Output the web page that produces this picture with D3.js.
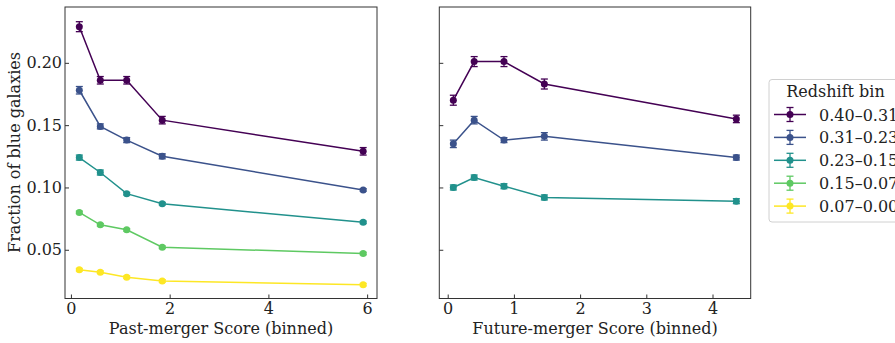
<!DOCTYPE html>
<html><head><meta charset="utf-8">
<script src="https://cdn.jsdelivr.net/npm/d3@7"></script>
<style>body{margin:0;background:#fff;} svg{display:block;} text{font-family:"DejaVu Serif",serif;}</style>
</head><body>
<svg id="c" width="895" height="343"></svg>
<script>
const seriesNames = ["0.40–0.31","0.31–0.23","0.23–0.15","0.15–0.07","0.07–0.00"];
const colors = ["#440154","#3b528b","#21918c","#5ec962","#fde725"];
const pastX = [0.17, 0.595, 1.13, 1.85, 5.92];
const pastY = [
  [0.229, 0.186, 0.186, 0.154, 0.129],
  [0.178, 0.149, 0.138, 0.125, 0.098],
  [0.124, 0.112, 0.095, 0.087, 0.072],
  [0.080, 0.070, 0.066, 0.052, 0.047],
  [0.034, 0.032, 0.028, 0.025, 0.022]
];
const pastErr = [
  [0.004, 0.003, 0.003, 0.003, 0.003],
  [0.003, 0.002, 0.002, 0.002, 0.001],
  [0.002, 0.002, 0.001, 0.001, 0.001],
  [0.001, 0.001, 0.001, 0.001, 0.001],
  [0.001, 0.001, 0.001, 0.001, 0.001]
];
const futureX = [0.085, 0.40, 0.85, 1.46, 4.36];
const futureY = [
  [0.170, 0.201, 0.201, 0.183, 0.155],
  [0.135, 0.154, 0.138, 0.141, 0.124],
  [0.100, 0.108, 0.101, 0.092, 0.089]
];
const futureErr = [
  [0.004, 0.004, 0.004, 0.004, 0.003],
  [0.003, 0.003, 0.002, 0.003, 0.002],
  [0.002, 0.002, 0.002, 0.002, 0.002]
];
const yTicks = [0.05, 0.10, 0.15, 0.20];
const pastTicks = [0, 2, 4, 6];
const futureTicks = [0, 1, 2, 3, 4];

(function(){
const svg = d3.select("#c");
const FS = 16;
const plotTop = 7, plotBottom = 298.5;
const y = d3.scaleLinear().domain([0.0109, 0.2448]).range([plotBottom, plotTop]);

function panel(x0, x1, xdom, xs, ys, errs, ticks, xlabel, showY) {
  const x = d3.scaleLinear().domain(xdom).range([x0, x1]);
  const g = svg.append("g");
  ys.forEach((vals, i) => {
    const c = colors[i];
    const pts = vals.map((v, j) => ({x: xs[j], y: v, e: errs[i][j]}));
    g.append("path").datum(pts)
      .attr("d", d3.line().x(d => x(d.x)).y(d => y(d.y)))
      .attr("fill", "none").attr("stroke", c).attr("stroke-width", 1.5);
    const eb = g.selectAll(null).data(pts).enter().append("g").attr("stroke", c).attr("stroke-width", 1.3);
    eb.append("line").attr("x1", d => x(d.x)).attr("x2", d => x(d.x)).attr("y1", d => y(d.y - d.e)).attr("y2", d => y(d.y + d.e));
    eb.append("line").attr("x1", d => x(d.x) - 3.5).attr("x2", d => x(d.x) + 3.5).attr("y1", d => y(d.y - d.e)).attr("y2", d => y(d.y - d.e));
    eb.append("line").attr("x1", d => x(d.x) - 3.5).attr("x2", d => x(d.x) + 3.5).attr("y1", d => y(d.y + d.e)).attr("y2", d => y(d.y + d.e));
    g.selectAll(null).data(pts).enter().append("circle")
      .attr("cx", d => x(d.x)).attr("cy", d => y(d.y)).attr("r", 3.5).attr("fill", c);
  });
  g.append("rect").attr("x", x0).attr("y", plotTop).attr("width", x1 - x0).attr("height", plotBottom - plotTop)
    .attr("fill", "none").attr("stroke", "#333").attr("stroke-width", 1);
  const xa = g.append("g").attr("transform", `translate(0,${plotBottom})`)
    .call(d3.axisBottom(x).tickValues(ticks).tickFormat(d3.format("d")).tickSizeInner(-4).tickSizeOuter(0).tickPadding(4.5));
  xa.select(".domain").remove();
  xa.selectAll("text").attr("font-size", FS).attr("fill", "#222").attr("font-family", "DejaVu Serif");
  xa.selectAll("line").attr("stroke", "#333");
  const ya = g.append("g").attr("transform", `translate(${x0},0)`)
    .call(d3.axisLeft(y).tickValues(yTicks).tickFormat(showY ? d3.format(".2f") : () => "").tickSizeInner(-4).tickSizeOuter(0).tickPadding(3));
  ya.select(".domain").remove();
  ya.selectAll("text").attr("font-size", FS).attr("fill", "#222").attr("font-family", "DejaVu Serif");
  ya.selectAll("line").attr("stroke", "#333");
  g.append("text").attr("x", (x0 + x1) / 2).attr("y", 333.5).attr("text-anchor", "middle")
    .attr("font-size", FS).attr("fill", "#222").text(xlabel);
}

panel(65, 377, [-0.12, 6.2], pastX, pastY, pastErr, pastTicks, "Past-merger Score (binned)", true);
panel(439.3, 750.7, [-0.127, 4.577], futureX, futureY, futureErr, futureTicks, "Future-merger Score (binned)", false);

svg.append("text").attr("transform", "translate(19.5,152.5) rotate(-90)").attr("text-anchor", "middle")
  .attr("font-size", FS).attr("fill", "#222").text("Fraction of blue galaxies");

const lg = svg.append("g");
lg.append("rect").attr("x", 769).attr("y", 79.5).attr("width", 140).attr("height", 142.5).attr("rx", 3)
  .attr("fill", "#fff").attr("stroke", "#d0d0d0");
lg.append("text").attr("x", 835.5).attr("y", 97).attr("text-anchor", "middle").attr("font-size", FS).attr("fill", "#222").text("Redshift bin");
seriesNames.forEach((n, i) => {
  const cy = 114.5 + i * 22.9;
  const c = colors[i];
  const e = lg.append("g").attr("stroke", c).attr("stroke-width", 1.3);
  e.append("line").attr("x1", 774).attr("x2", 806).attr("y1", cy).attr("y2", cy).attr("stroke-width", 1.5);
  e.append("line").attr("x1", 790).attr("x2", 790).attr("y1", cy - 7).attr("y2", cy + 7);
  e.append("line").attr("x1", 786.5).attr("x2", 793.5).attr("y1", cy - 7).attr("y2", cy - 7);
  e.append("line").attr("x1", 786.5).attr("x2", 793.5).attr("y1", cy + 7).attr("y2", cy + 7);
  lg.append("circle").attr("cx", 790).attr("cy", cy).attr("r", 3.5).attr("fill", c);
  lg.append("text").attr("x", 819).attr("y", cy + 6).attr("font-size", FS).attr("fill", "#222").text(n);
});
})();
</script>
</body></html>
